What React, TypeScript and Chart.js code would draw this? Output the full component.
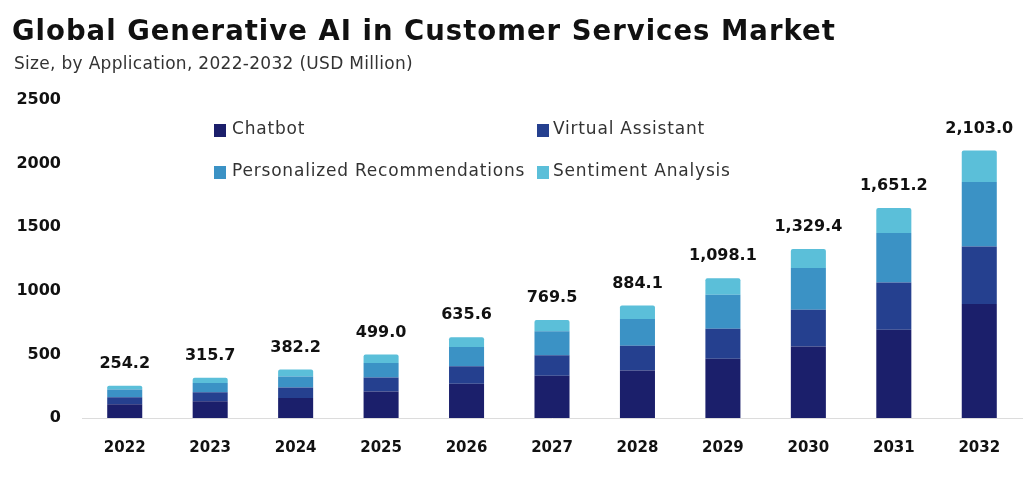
import React, { useEffect, useRef } from "react";
import { Chart, registerables } from "chart.js";

Chart.register(...registerables);

const years = ["2022", "2023", "2024", "2025", "2026", "2027", "2028", "2029", "2030", "2031", "2032"];
const chatbot = [108, 131, 157, 209, 270, 333, 374, 466, 563, 694, 896];
const virtualAssistant = [55, 71, 83, 110, 136, 160, 194, 236, 288, 372, 453];
const personalized = [61, 74, 86, 113, 153, 189, 210, 267, 328, 388, 506];
const sentiment = [30.2, 39.7, 56.2, 67, 76.6, 87.5, 106.1, 129.1, 150.4, 197.2, 248];
const totals = ["254.2", "315.7", "382.2", "499.0", "635.6", "769.5", "884.1", "1,098.1", "1,329.4", "1,651.2", "2,103.0"];
const yTicks = [0, 500, 1000, 1500, 2000, 2500];

const seriesNames = ["Chatbot", "Virtual Assistant", "Personalized Recommendations", "Sentiment Analysis"];
const seriesColors = ["#1b1f6b", "#25408f", "#3b92c5", "#5bbfd9"];

const TITLE = "Global Generative AI in Customer Services Market";
const SUBTITLE = "Size, by Application, 2022-2032 (USD Million)";
const FONT = "'DejaVu Sans'";

const overlayPlugin = {
  id: "overlay",
  afterDatasetsDraw(chart: any) {
    const ctx = chart.ctx;
    ctx.save();
    // Title
    ctx.fillStyle = "#111111";
    ctx.textBaseline = "middle";
    ctx.textAlign = "left";
    ctx.font = `700 27.5px ${FONT}`;
    ctx.letterSpacing = "1px";
    ctx.fillText(TITLE, 12, 33);
    ctx.fillStyle = "#333333";
    ctx.font = `400 17px ${FONT}`;
    ctx.letterSpacing = "0.3px";
    ctx.fillText(SUBTITLE, 14, 65);

    // Legend
    const legendPos = [
      [214, 130],
      [537, 130],
      [214, 172],
      [537, 172],
    ];
    ctx.font = `400 17px ${FONT}`;
    ctx.letterSpacing = "0.8px";
    seriesNames.forEach((name, i) => {
      const [x, y] = legendPos[i];
      ctx.fillStyle = seriesColors[i];
      ctx.fillRect(x, y - 6, 12, 13);
      ctx.fillStyle = "#333333";
      ctx.fillText(name, x + (i % 2 === 0 ? 18 : 16), y);
    });

    // Totals
    const lastMeta = chart.getDatasetMeta(chart.data.datasets.length - 1);
    ctx.fillStyle = "#111111";
    ctx.textAlign = "center";
    ctx.letterSpacing = "0px";
    ctx.font = `700 16px ${FONT}`;
    lastMeta.data.forEach((bar: any, i: number) => {
      ctx.fillText(totals[i], bar.x, bar.y - 22);
    });
    ctx.restore();
  },
};

export default function App() {
  const ref = useRef<HTMLCanvasElement>(null);
  useEffect(() => {
    if (!ref.current) return;
    const datasets = [chatbot, virtualAssistant, personalized, sentiment].map((d, i) => ({
      label: seriesNames[i],
      data: d,
      backgroundColor: seriesColors[i],
      borderWidth: 0,
      categoryPercentage: 1,
      barPercentage: 0.41,
      borderRadius: i === 3 ? { topLeft: 2, topRight: 2 } : 0,
      borderSkipped: false,
    }));
    const chart = new Chart(ref.current, {
      type: "bar",
      data: { labels: years, datasets },
      options: {
        animation: false,
        responsive: false,
        maintainAspectRatio: false,
        layout: { padding: { top: 100, right: 2, left: 0, bottom: 0 } },
        plugins: {
          legend: { display: false },
          title: { display: false },
          tooltip: { enabled: false },
        },
        scales: {
          x: {
            stacked: true,
            grid: { display: false, drawTicks: false },
            border: { display: true, color: "#dcdcdc", width: 1 },
            ticks: {
              padding: 21,
              color: "#111111",
              font: { family: FONT, size: 15, weight: "bold" },
            },
            afterFit(scale: any) {
              scale.height = 63;
            },
          },
          y: {
            stacked: true,
            min: 0,
            max: 2500,
            afterBuildTicks(scale: any) {
              scale.ticks = yTicks.map((v) => ({ value: v }));
            },
            grid: { display: false, drawTicks: false },
            border: { display: false },
            ticks: {
              padding: 21,
              color: "#111111",
              font: { family: FONT, size: 16, weight: "bold" },
              callback: (v: any) => String(v),
            },
            afterFit(scale: any) {
              scale.width = 82;
            },
          },
        },
      },
      plugins: [overlayPlugin],
    });
    return () => chart.destroy();
  }, []);
  return (
    <div style={{ position: "fixed", left: 0, top: 0, width: 1024, height: 481, background: "#ffffff" }}>
      <canvas ref={ref} width={1024} height={481} style={{ width: 1024, height: 481, display: "block" }} />
    </div>
  );
}
